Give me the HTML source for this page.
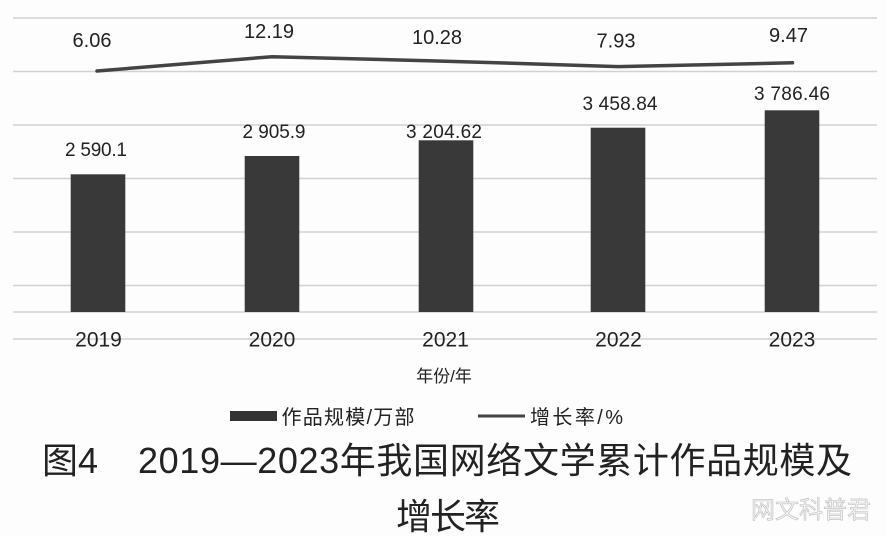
<!DOCTYPE html>
<html><head><meta charset="utf-8"><style>
html,body{margin:0;padding:0;background:#fff;width:886px;height:536px;overflow:hidden}
svg{display:block}
text{font-family:"Liberation Sans","Noto Sans CJK SC",sans-serif;fill:#222}
</style></head><body>
<svg width="886" height="536" viewBox="0 0 886 536" xmlns="http://www.w3.org/2000/svg">
<rect x="0" y="0" width="886" height="536" fill="#fdfdfd"/>
<g stroke="#d2d2d2" stroke-width="1.5">
<line x1="13" y1="18" x2="877" y2="18"/>
<line x1="13" y1="71.5" x2="877" y2="71.5"/>
<line x1="13" y1="125" x2="877" y2="125"/>
<line x1="13" y1="178.5" x2="877" y2="178.5"/>
<line x1="13" y1="232" x2="877" y2="232"/>
<line x1="13" y1="285.5" x2="877" y2="285.5"/>
<line x1="13" y1="312" x2="877" y2="312"/>
<line x1="13" y1="339" x2="877" y2="339"/>
</g>
<g fill="#393939">
<rect x="70.7" y="174.3" width="54.6" height="137.7"/>
<rect x="244.7" y="156" width="54.6" height="156"/>
<rect x="418.7" y="140.3" width="54.6" height="171.7"/>
<rect x="590.7" y="127.7" width="54.6" height="184.3"/>
<rect x="764.7" y="110.3" width="54.6" height="201.7"/>
</g>
<polyline points="97,71 272,56.7 445.7,61.2 618,66.6 792.5,62.8" fill="none" stroke="#444" stroke-width="3.5" stroke-linejoin="round" stroke-linecap="round"/>
<g font-size="20" text-anchor="middle">
<text x="92" y="47">6.06</text>
<text x="269" y="38">12.19</text>
<text x="437" y="44">10.28</text>
<text x="616" y="47.5">7.93</text>
<text x="788.5" y="42">9.47</text>
</g>
<g font-size="19" text-anchor="middle">
<text x="96" y="156" textLength="62">2 590.1</text>
<text x="274" y="138" textLength="63">2 905.9</text>
<text x="444" y="138" textLength="76">3 204.62</text>
<text x="620" y="110" textLength="75">3 458.84</text>
<text x="792" y="100" textLength="76">3 786.46</text>
</g>
<g font-size="21" text-anchor="middle">
<text x="98.5" y="346.5">2019</text>
<text x="272" y="346.5">2020</text>
<text x="445.5" y="346.5">2021</text>
<text x="618.5" y="346.5">2022</text>
<text x="792" y="346.5">2023</text>
</g>
<text x="444" y="382" font-size="17" text-anchor="middle">年份/年</text>
<rect x="230" y="411" width="47" height="10" fill="#333"/>
<text x="281.5" y="424" font-size="20" textLength="133">作品规模/万部</text>
<line x1="478" y1="416" x2="525" y2="416" stroke="#444" stroke-width="3"/>
<text x="530" y="424" font-size="20" textLength="93">增长率/%</text>
<text x="42" y="473" font-size="36">图4</text>
<text x="138" y="473" font-size="36" textLength="714">2019—2023年我国网络文学累计作品规模及</text>
<text x="396" y="529" font-size="36" textLength="104">增长率</text>
<text x="751" y="518" font-size="24" textLength="120" style="fill:#f4f4f4;stroke:#bdbdbd;stroke-width:0.6">网文科普君</text>
</svg>
</body></html>
